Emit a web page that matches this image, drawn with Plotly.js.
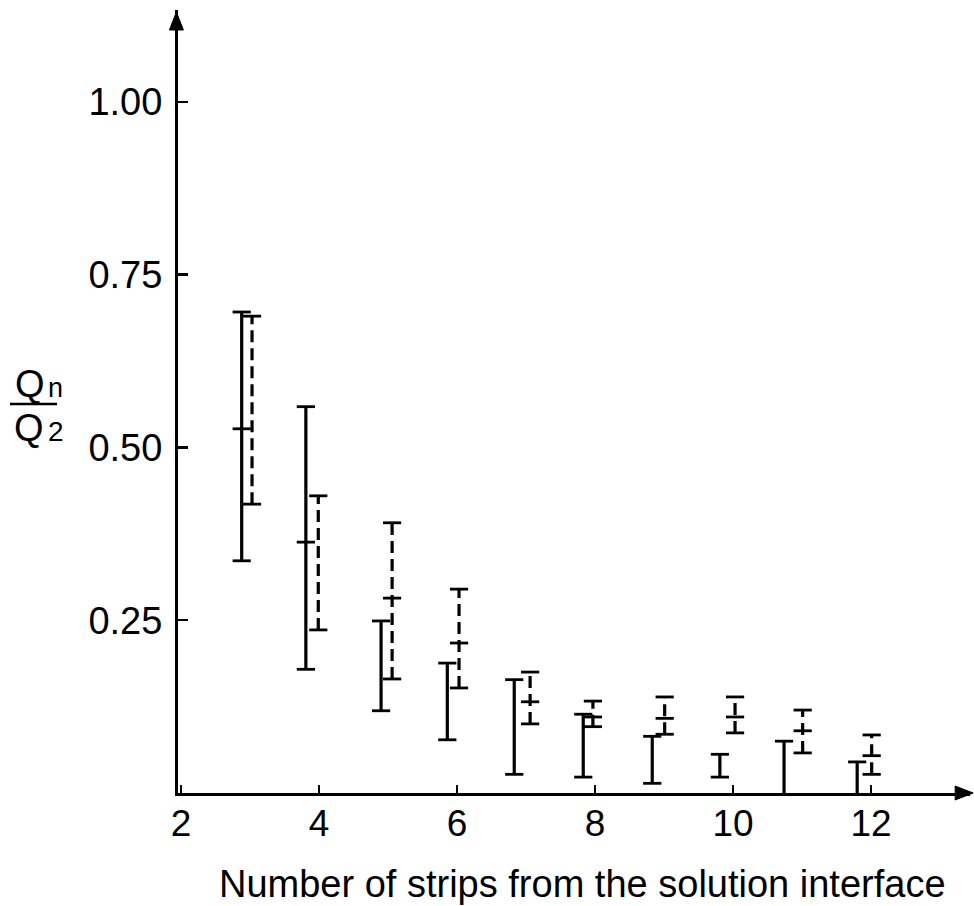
<!DOCTYPE html>
<html><head><meta charset="utf-8">
<script src="https://cdn.plot.ly/plotly-3.0.1.min.js"></script>
<style>html,body{margin:0;padding:0;background:#fff}</style>
</head><body>
<div id="chart" style="width:974px;height:906px"></div>
<script>
// Solid bars (left of each pair)
const solidX    = [2.88, 3.81, 4.90, 5.86, 6.83, 7.83, 8.83, 9.81, 10.74, 11.80];
const solidHigh = [0.696, 0.559, 0.249, 0.188, 0.164, 0.114, 0.082, 0.056, 0.075, 0.045];
const solidMid  = [0.527, 0.363, null, null, null, null, null, null, null, null];
const solidLow  = [0.336, 0.179, 0.119, 0.077, 0.027, 0.023, 0.014, 0.023, 0.0, 0.0];
// Dashed bars (right of each pair)
const dashedX    = [3.03, 3.99, 5.06, 6.03, 7.06, 7.97, 9.01, 10.03, 11.01, 12.01];
const dashedHigh = [0.690, 0.430, 0.391, 0.295, 0.175, 0.133, 0.139, 0.139, 0.120, 0.084];
const dashedMid  = [null, null, 0.282, 0.217, 0.132, 0.110, 0.108, 0.110, 0.090, 0.054];
const dashedLow  = [0.418, 0.236, 0.165, 0.152, 0.100, 0.096, 0.085, 0.087, 0.058, 0.027];
// Axis ticks
const xTickVals = [2, 4, 6, 8, 10, 12];
const yTickVals = [0.25, 0.50, 0.75, 1.00];
const yTickText = ["0.25", "0.50", "0.75", "1.00"];
const xTitle = "Number of strips from the solution interface";

function segs(xs, lo, hi) {
  const X = [], Y = [];
  xs.forEach((x, i) => { X.push(x, x, null); Y.push(lo[i], hi[i], null); });
  return {X, Y};
}
function pts(xs, ...arrs) {
  const X = [], Y = [];
  arrs.forEach(a => a.forEach((v, i) => { if (v !== null && v > 0) { X.push(xs[i]); Y.push(v); } }));
  return {X, Y};
}
const s = segs(solidX, solidLow, solidHigh);
const d = segs(dashedX, dashedLow, dashedHigh);
const sc = pts(solidX, solidLow, solidHigh, solidMid);
const dc = pts(dashedX, dashedLow, dashedHigh, dashedMid);
const capMarker = {symbol: 'line-ew', size: 13, color: '#000', line: {color: '#000', width: 2.8}};

const traces = [
  {x: s.X, y: s.Y, mode: 'lines', line: {color: '#000', width: 3.2}, cliponaxis: false, hoverinfo: 'skip'},
  {x: d.X, y: d.Y, mode: 'lines', line: {color: '#000', width: 3.2, dash: '12px,6px'}, cliponaxis: false, hoverinfo: 'skip'},
  {x: sc.X, y: sc.Y, mode: 'markers', marker: capMarker, cliponaxis: false, hoverinfo: 'skip'},
  {x: dc.X, y: dc.Y, mode: 'markers', marker: capMarker, cliponaxis: false, hoverinfo: 'skip'}
];

const L = 178, R = 4, T = 10, B = 113, W = 974, H = 906;
const pw = W - L - R, ph = H - T - B;
const px = v => (v - L) / pw;
const py = v => (H - B - v) / ph;
const font = 'Liberation Sans, Arial, sans-serif';

const layout = {
  width: W, height: H,
  margin: {l: L, r: R, t: T, b: B},
  paper_bgcolor: '#fff', plot_bgcolor: '#fff',
  showlegend: false,
  font: {family: font, color: '#000'},
  xaxis: {
    range: [1.957, 13.435], showgrid: false, zeroline: false,
    showline: true, linecolor: '#000', linewidth: 3,
    ticks: 'inside', ticklen: 8, tickwidth: 2.5, tickcolor: '#000',
    tickvals: xTickVals, ticktext: xTickVals.map(String),
    tickfont: {size: 37, family: font, color: '#000'},
    ticklabelstandoff: -4
  },
  yaxis: {
    range: [0, 1.133], showgrid: false, zeroline: false,
    showline: true, linecolor: '#000', linewidth: 3,
    ticks: 'inside', ticklen: 10, tickwidth: 2.5, tickcolor: '#000',
    tickvals: yTickVals, ticktext: yTickText,
    tickfont: {size: 38, family: font, color: '#000'},
    ticklabelstandoff: 5
  },
  shapes: [
    {type: 'line', xref: 'paper', yref: 'paper', x0: px(10), x1: px(57), y0: py(404), y1: py(404), line: {color: '#000', width: 2.5}},
    {type: 'path', xref: 'paper', yref: 'paper', xsizemode: 'pixel', ysizemode: 'pixel',
     xanchor: 1.004, yanchor: 0, path: 'M0,0 L-18,7 L-18,-7 Z', fillcolor: '#000', line: {color: '#000', width: 1}},
    {type: 'path', xref: 'paper', yref: 'paper', xsizemode: 'pixel', ysizemode: 'pixel',
     xanchor: -0.002, yanchor: py(12), path: 'M0,0 L-7,-18 L7,-18 Z', fillcolor: '#000', line: {color: '#000', width: 1}}
  ],
  annotations: [
    {xref: 'paper', yref: 'paper', x: px(582), y: py(884), text: xTitle, showarrow: false, xanchor: 'center', yanchor: 'middle', borderpad: 0, font: {size: 38, family: font, color: '#000'}},
    {xref: 'paper', yref: 'paper', x: px(30), y: py(384), text: 'Q', showarrow: false, xanchor: 'center', yanchor: 'middle', font: {size: 38, family: font, color: '#000'}},
    {xref: 'paper', yref: 'paper', x: px(55), y: py(388), text: 'n', showarrow: false, xanchor: 'center', yanchor: 'middle', font: {size: 27, family: font, color: '#000'}},
    {xref: 'paper', yref: 'paper', x: px(29), y: py(428), text: 'Q', showarrow: false, xanchor: 'center', yanchor: 'middle', font: {size: 38, family: font, color: '#000'}},
    {xref: 'paper', yref: 'paper', x: px(56), y: py(432), text: '2', showarrow: false, xanchor: 'center', yanchor: 'middle', font: {size: 28, family: font, color: '#000'}}
  ]
};

Plotly.newPlot('chart', traces, layout, {displayModeBar: false, staticPlot: true});
</script>
</body></html>
